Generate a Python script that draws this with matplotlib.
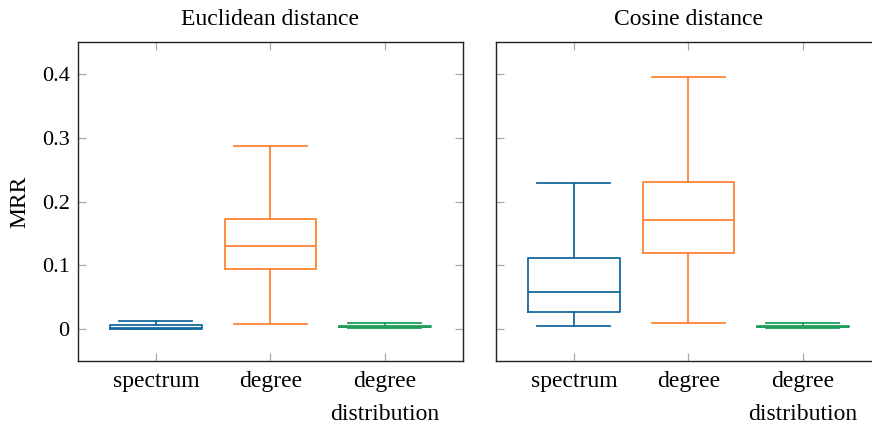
import matplotlib
matplotlib.use('Agg')
import matplotlib.pyplot as plt

# categories and box statistics
categories = ['spectrum', 'degree', 'degree\ndistribution']
colors = ['#16699c', '#fd8336', '#1f9e5a']
titles = ['Euclidean distance', 'Cosine distance']

# Euclidean distance: lower whisker, q1, median, q3, upper whisker
euc_low = [0.000, 0.0085, 0.002]
euc_q1 = [0.000, 0.094, 0.003]
euc_med = [0.002, 0.131, 0.004]
euc_q3 = [0.006, 0.173, 0.005]
euc_high = [0.012, 0.287, 0.0094]

# Cosine distance
cos_low = [0.0042, 0.0089, 0.002]
cos_q1 = [0.0266, 0.119, 0.003]
cos_med = [0.0585, 0.171, 0.004]
cos_q3 = [0.111, 0.230, 0.005]
cos_high = [0.229, 0.395, 0.009]

yticks = [0, 0.1, 0.2, 0.3, 0.4]
ytick_labels = ['0', '0.1', '0.2', '0.3', '0.4']

plt.rcParams['font.family'] = ['Liberation Serif', 'DejaVu Serif']
plt.rcParams['font.size'] = 17


def make_stats(low, q1, med, q3, high):
    return [dict(whislo=a, q1=b, med=c, q3=d, whishi=e, fliers=[])
            for a, b, c, d, e in zip(low, q1, med, q3, high)]


def draw_panel(ax, stats, title, show_labels):
    for i, (st, col) in enumerate(zip(stats, colors)):
        lw = 1.3
        ax.bxp([st], positions=[i + 1], widths=0.8, showfliers=False,
               capwidths=0.64,
               boxprops=dict(color=col, linewidth=lw),
               medianprops=dict(color=col, linewidth=lw),
               whiskerprops=dict(color=col, linewidth=lw),
               capprops=dict(color=col, linewidth=lw))
    ax.set_xlim(0.32, 3.68)
    ax.set_ylim(-0.05, 0.45)
    ax.set_xticks([1, 2, 3])
    ax.set_xticklabels(categories, linespacing=1.75, va='top')
    ax.set_yticks(yticks)
    if show_labels:
        ax.set_yticklabels(ytick_labels)
    else:
        ax.set_yticklabels([])
    ax.tick_params(direction='in', length=5.5, width=0.9, color='#a8a8a8',
                   top=True, right=True)
    ax.tick_params(axis='x', labelsize=17, pad=7)
    ax.tick_params(axis='y', labelsize=16, pad=6)
    for sp in ax.spines.values():
        sp.set_linewidth(1.0)
        sp.set_color('#222222')
    ax.set_title(title, fontsize=17, pad=12)


fig = plt.figure(figsize=(8.72, 4.28), dpi=100)
ax1 = fig.add_axes([0.0894, 0.1565, 0.4412, 0.7453])
ax2 = fig.add_axes([0.5688, 0.1565, 0.4412, 0.7453])

draw_panel(ax1, make_stats(euc_low, euc_q1, euc_med, euc_q3, euc_high),
           titles[0], True)
draw_panel(ax2, make_stats(cos_low, cos_q1, cos_med, cos_q3, cos_high),
           titles[1], False)
ax1.set_ylabel('MRR', fontsize=17, labelpad=8)

fig.savefig('out.png', dpi=100)
